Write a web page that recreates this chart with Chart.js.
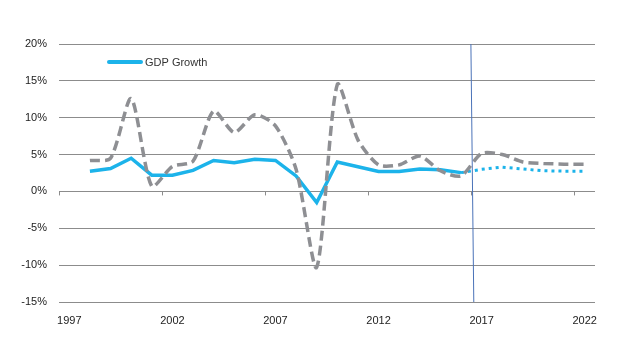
<!DOCTYPE html>
<html>
<head>
<meta charset="utf-8">
<script src="https://cdn.jsdelivr.net/npm/chart.js@4"></script>
<style>
html,body{margin:0;padding:0;background:#fff;}
#wrap{width:624px;height:350px;}
</style>
</head>
<body>
<div id="wrap"><canvas id="c" width="624" height="350"></canvas></div>
<script>
// ---- data ----
const actualYears   = [1998,1999,2000,2001,2002,2003,2004,2005,2006,2007,2008,2009,2010,2011,2012,2013,2014,2015,2016];
const gdpActual     = [2.75,3.1,4.5,2.2,2.2,2.85,4.2,3.9,4.35,4.2,2.1,-1.5,4.0,3.35,2.7,2.7,3.05,2.95,2.55];
const forecastYears = [2016,2017,2018,2019,2020,2021,2022];
const gdpForecast   = [2.55,3.0,3.3,3.05,2.8,2.75,2.75];
const allYears      = [1998,1999,2000,2001,2002,2003,2004,2005,2006,2007,2008,2009,2010,2011,2012,2013,2014,2015,2016,2017,2018,2019,2020,2021,2022];
const comparison    = [4.2,4.5,12.6,0.7,3.4,4.1,10.9,8.0,10.4,8.9,3.0,-10.3,14.5,7.0,3.6,3.6,4.8,2.8,2.1,5.15,5.0,4.0,3.8,3.7,3.7];
const markerX       = [2016.48,2016.62];
const markerY       = [20,-15];
const tickYears     = [1997,2002,2007,2012,2017,2022];
const boundaryYears = [1996.5,2001.5,2006.5,2011.5,2016.5,2021.5];
const legendLabel   = 'GDP Growth';

const BLUE = '#1CB3EA';
const GREY = '#8E8F93';
const FONT = "'Liberation Sans', Arial, sans-serif";

const pts = (xs, ys) => xs.map((x, i) => ({x: x, y: ys[i]}));

const zeroTicks = {
  id: 'zeroTicks',
  afterDatasetsDraw(chart) {
    const {ctx, scales:{x, y}} = chart;
    const y0 = y.getPixelForValue(0);
    ctx.save();
    ctx.strokeStyle = '#8c8c8c';
    ctx.lineWidth = 1;
    ctx.beginPath();
    boundaryYears.forEach(b => {
      const px = Math.round(x.getPixelForValue(b)) + 0.5;
      ctx.moveTo(px, y0);
      ctx.lineTo(px, y0 + 4);
    });
    ctx.stroke();
    ctx.restore();
  }
};

const customLegend = {
  id: 'customLegend',
  afterDraw(chart) {
    const {ctx, chartArea} = chart;
    const lx = chartArea.left + 50, ly = chartArea.top + 18;
    ctx.save();
    ctx.strokeStyle = BLUE;
    ctx.lineWidth = 4;
    ctx.lineCap = 'round';
    ctx.beginPath();
    ctx.moveTo(lx, ly);
    ctx.lineTo(lx + 32, ly);
    ctx.stroke();
    ctx.fillStyle = '#333';
    ctx.font = '11px ' + FONT;
    ctx.textBaseline = 'middle';
    ctx.textAlign = 'left';
    ctx.fillText(legendLabel, lx + 36, ly + 0.5);
    ctx.restore();
  }
};

new Chart(document.getElementById('c'), {
  type: 'line',
  data: {
    datasets: [
      {
        label: 'Comparison',
        data: pts(allYears, comparison),
        borderColor: GREY,
        borderWidth: 3.5,
        borderDash: [10, 5],
        pointRadius: 0,
        tension: 0.25,
        fill: false
      },
      {
        label: legendLabel,
        data: pts(actualYears, gdpActual),
        borderColor: BLUE,
        borderWidth: 3.5,
        pointRadius: 0,
        tension: 0,
        fill: false
      },
      {
        label: legendLabel + ' forecast',
        data: pts(forecastYears, gdpForecast),
        borderColor: BLUE,
        borderWidth: 3,
        borderDash: [3, 4],
        pointRadius: 0,
        tension: 0,
        fill: false
      },
      {
        label: 'marker',
        data: pts(markerX, markerY),
        borderColor: '#4A72B8',
        borderWidth: 1,
        pointRadius: 0,
        fill: false
      }
    ]
  },
  options: {
    responsive: false,
    animation: false,
    layout: { padding: { top: 44, right: 29, left: 0, bottom: 0 } },
    plugins: {
      legend: { display: false },
      tooltip: { enabled: false }
    },
    scales: {
      x: {
        type: 'linear',
        min: 1996.5,
        max: 2022.5,
        afterBuildTicks: s => { s.ticks = tickYears.map(v => ({value: v})); },
        afterFit: s => { s.height = 48; },
        grid: { display: false, drawTicks: false },
        border: { display: false },
        ticks: {
          padding: 12,
          maxRotation: 0,
          autoSkip: false,
          color: '#222',
          font: { family: FONT, size: 11 },
          callback: v => String(v)
        }
      },
      y: {
        min: -15,
        max: 20,
        afterFit: s => { s.width = 59; },
        grid: { color: '#8c8c8c', lineWidth: 1, drawTicks: false },
        border: { display: false },
        ticks: {
          stepSize: 5,
          padding: 12,
          color: '#222',
          font: { family: FONT, size: 11 },
          callback: v => v + '%'
        }
      }
    }
  },
  plugins: [zeroTicks, customLegend]
});
</script>
</body>
</html>
